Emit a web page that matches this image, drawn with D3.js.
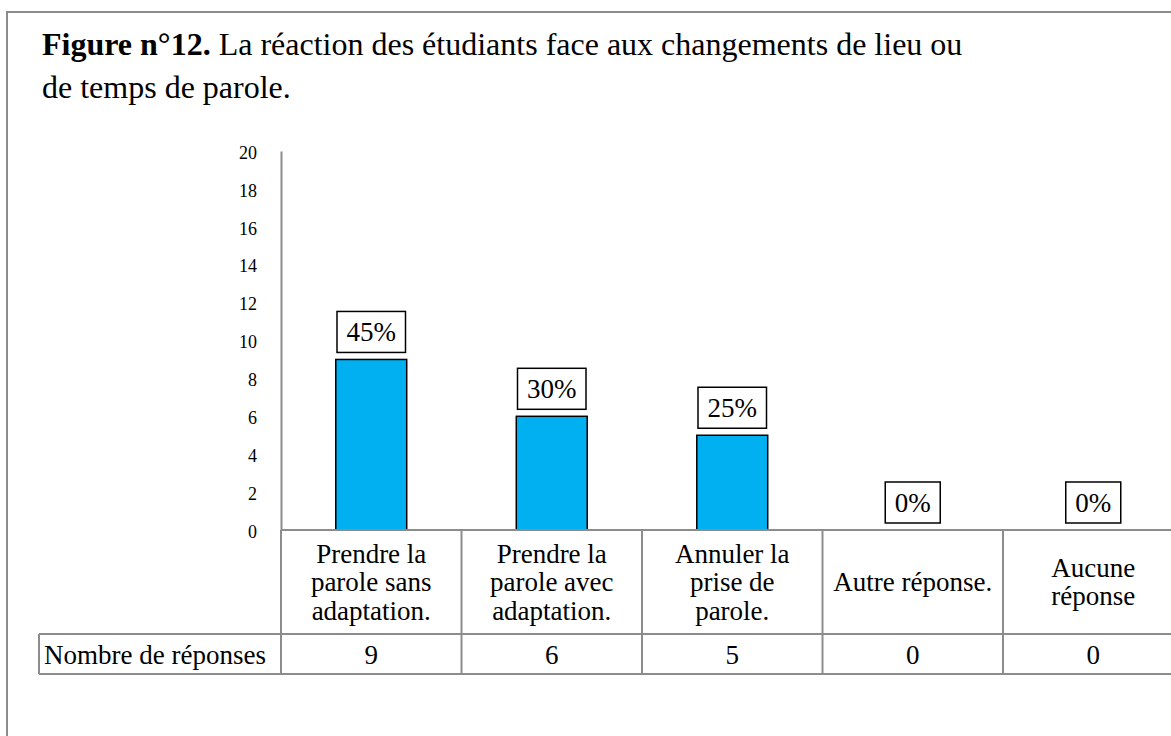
<!DOCTYPE html>
<html>
<head>
<meta charset="utf-8">
<script src="https://cdn.jsdelivr.net/npm/d3@7"></script>
<style>
  body { margin: 0; background: #fff; }
  svg text { font-family: "Times New Roman", "Liberation Serif", Tinos, serif; fill: #000; }
</style>
</head>
<body>
<svg id="chart" width="1171" height="736"></svg>
<script>
// chart data
const categories = ['Prendre la parole sans adaptation.', 'Prendre la parole avec adaptation.',
  'Annuler la prise de parole.', 'Autre réponse.', 'Aucune réponse'];
const categoryLines = [
  ['Prendre la', 'parole sans', 'adaptation.'],
  ['Prendre la', 'parole avec', 'adaptation.'],
  ['Annuler la', 'prise de', 'parole.'],
  ['Autre réponse.'],
  ['Aucune', 'réponse']
];
const responses = [9, 6, 5, 0, 0];
const percentLabels = ['45%', '30%', '25%', '0%', '0%'];
const yTicks = [0, 2, 4, 6, 8, 10, 12, 14, 16, 18, 20];
const rowLabel = 'Nombre de réponses';

const svg = d3.select('#chart');
const serif = '"Times New Roman", "Liberation Serif", Tinos, serif';
const gridColor = '#8c8c8c';

// frame around the figure (right and bottom fall outside the picture)
svg.append('path')
  .attr('d', 'M7,740 L7,12 L1180,12')
  .attr('fill', 'none')
  .attr('stroke', gridColor)
  .attr('stroke-width', 2);

// title
const title = svg.append('text').attr('x', 42).attr('y', 55)
  .attr('font-family', serif).style('font-size', '32px');
title.append('tspan').style('font-weight', 'bold').text('Figure n°12.');
title.append('tspan').text(' La réaction des étudiants face aux changements de lieu ou');
svg.append('text').attr('x', 42).attr('y', 98)
  .attr('font-family', serif).style('font-size', '32px').text('de temps de parole.');

let plotLeft = 281, colW = 180.5;
let yTop = 151, yBase = 530;
let catRowBottom = 634, numRowBottom = 674;

const x = d3.scaleBand()
  .domain(categories)
  .range([plotLeft, plotLeft + colW * categories.length])
  .paddingInner(0.607)
  .paddingOuter(0.3035);

const y = d3.scaleLinear().domain([0, 20]).range([yBase, yTop]);

// y axis
const yAxis = svg.append('g')
  .attr('transform', 'translate(' + plotLeft + ',0)')
  .call(d3.axisLeft(y).tickValues(yTicks).tickSize(0).tickSizeOuter(0).tickPadding(24));
yAxis.attr('font-family', serif);
yAxis.select('.domain').attr('stroke', gridColor).attr('stroke-width', 2);
yAxis.selectAll('text')
  .style('font-family', serif)
  .style('font-size', '18px')
  .attr('dy', '0.4em');

// bars
svg.append('g').selectAll('rect')
  .data(responses)
  .enter()
  .append('rect')
  .attr('x', (d, i) => x(categories[i]))
  .attr('y', d => y(d))
  .attr('width', x.bandwidth())
  .attr('height', d => yBase - y(d))
  .attr('fill', '#00b0f0')
  .attr('stroke', '#000')
  .attr('stroke-width', 1.5)
  .style('display', d => d > 0 ? null : 'none');

// percentage labels in boxes
const lab = svg.append('g').selectAll('g')
  .data(responses)
  .enter()
  .append('g')
  .attr('transform', (d, i) => 'translate(' + (x(categories[i]) + x.bandwidth() / 2) + ',' + (y(d) - 7) + ')');
lab.append('text')
  .attr('text-anchor', 'middle')
  .attr('y', -11)
  .attr('font-family', serif)
  .style('font-size', '27px')
  .text((d, i) => percentLabels[i]);
lab.each(function () {
  let g = d3.select(this);
  let w = g.select('text').node().getComputedTextLength() + 19;
  g.insert('rect', 'text')
    .attr('x', -w / 2).attr('y', -41)
    .attr('width', w).attr('height', 41)
    .attr('fill', '#fff').attr('stroke', '#000').attr('stroke-width', 1.5);
});

// data table under the axis
const tbl = svg.append('g').attr('stroke', gridColor).attr('stroke-width', 2);
tbl.append('line').attr('x1', plotLeft).attr('x2', 1190).attr('y1', yBase).attr('y2', yBase);
tbl.append('line').attr('x1', 39).attr('x2', 1190).attr('y1', catRowBottom).attr('y2', catRowBottom);
tbl.append('line').attr('x1', 39).attr('x2', 1190).attr('y1', numRowBottom).attr('y2', numRowBottom);
tbl.append('line').attr('x1', 39).attr('x2', 39).attr('y1', catRowBottom).attr('y2', numRowBottom);
tbl.selectAll('line.col')
  .data(categories)
  .enter()
  .append('line')
  .attr('class', 'col')
  .attr('x1', d => x(d) - x.step() * x.paddingOuter())
  .attr('x2', d => x(d) - x.step() * x.paddingOuter())
  .attr('y1', yBase)
  .attr('y2', numRowBottom);

// category names, centred in their cell
let lineH = 28.5;
svg.append('g').selectAll('text')
  .data(categories)
  .enter()
  .append('text')
  .attr('text-anchor', 'middle')
  .attr('font-family', serif)
  .style('font-size', '27px')
  .each(function (d, i) {
    let lines = categoryLines[i];
    let cx = x(d) + x.bandwidth() / 2;
    let cy = (yBase + catRowBottom) / 2 - (lines.length - 1) * lineH / 2 + 9;
    d3.select(this).selectAll('tspan')
      .data(lines)
      .enter()
      .append('tspan')
      .attr('x', cx)
      .attr('y', (l, k) => cy + k * lineH)
      .text(l => l);
  });

// response counts
svg.append('text').attr('x', 44).attr('y', 664)
  .attr('font-family', serif).style('font-size', '27px').text(rowLabel);
svg.append('g').selectAll('text')
  .data(responses)
  .enter()
  .append('text')
  .attr('x', (d, i) => x(categories[i]) + x.bandwidth() / 2)
  .attr('y', 664)
  .attr('text-anchor', 'middle')
  .attr('font-family', serif)
  .style('font-size', '27px')
  .text(d => d);
</script>
</body>
</html>
